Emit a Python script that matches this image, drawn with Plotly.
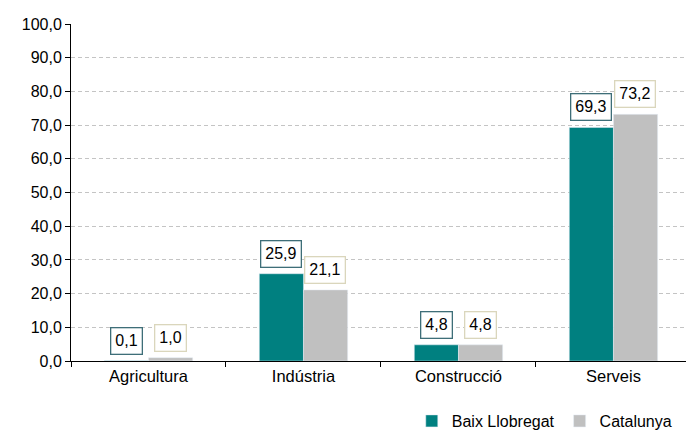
import plotly.graph_objects as go

categories = ["Agricultura", "Indústria", "Construcció", "Serveis"]
baix = [0.1, 25.9, 4.8, 69.3]
catalunya = [1.0, 21.1, 4.8, 73.2]
series_names = ["Baix Llobregat", "Catalunya"]

teal = "#008080"
gray = "#C0C0C0"
font = "Liberation Sans, Arial, sans-serif"

fig = go.Figure()
fig.add_trace(go.Bar(x=categories, y=baix, name=series_names[0], marker_color=teal))
fig.add_trace(go.Bar(x=categories, y=catalunya, name=series_names[1], marker_color=gray))

def fmt(v):
    return f"{v:.1f}".replace(".", ",")

for vals, shift, bc in [(baix, -22, "#3E6E78"), (catalunya, 22, "#DAD6BC")]:
    for c, v in zip(categories, vals):
        fig.add_annotation(x=c, y=v, text=fmt(v), xshift=shift, yshift=6,
                           yanchor="bottom", showarrow=False,
                           font=dict(size=16, color="black", family=font),
                           bordercolor=bc, borderwidth=1.3, borderpad=4, bgcolor="white")

fig.update_layout(
    width=686, height=432,
    margin=dict(l=71, r=0, t=24, b=71, autoexpand=False),
    paper_bgcolor="white", plot_bgcolor="white",
    barmode="group", bargap=0.43, bargroupgap=0,
    separators=",.",
    font=dict(family=font, size=16, color="black"),
    showlegend=True,
    legend=dict(orientation="h", x=0.985, y=-0.178, xanchor="right", yanchor="middle",
                font=dict(size=16), itemwidth=30, tracegroupgap=0),
    xaxis=dict(range=[-0.5, 3.468], showline=True, linecolor="black", linewidth=1,
               ticks="outside", tickson="boundaries", ticklen=5, tickcolor="black",
               tickfont=dict(size=16.5), automargin=False),
    yaxis=dict(range=[0, 100], dtick=10, tickformat=".1f", showline=True,
               linecolor="black", linewidth=1, ticks="outside", ticklen=5,
               tickcolor="black", showgrid=True, gridcolor="#C4C4C4", griddash="4px,3px",
               gridwidth=1, tickfont=dict(size=16), zeroline=False, automargin=False),
)

fig.write_html("out.html", config={"displayModeBar": False},
               post_script="document.body.style.margin='0';")
